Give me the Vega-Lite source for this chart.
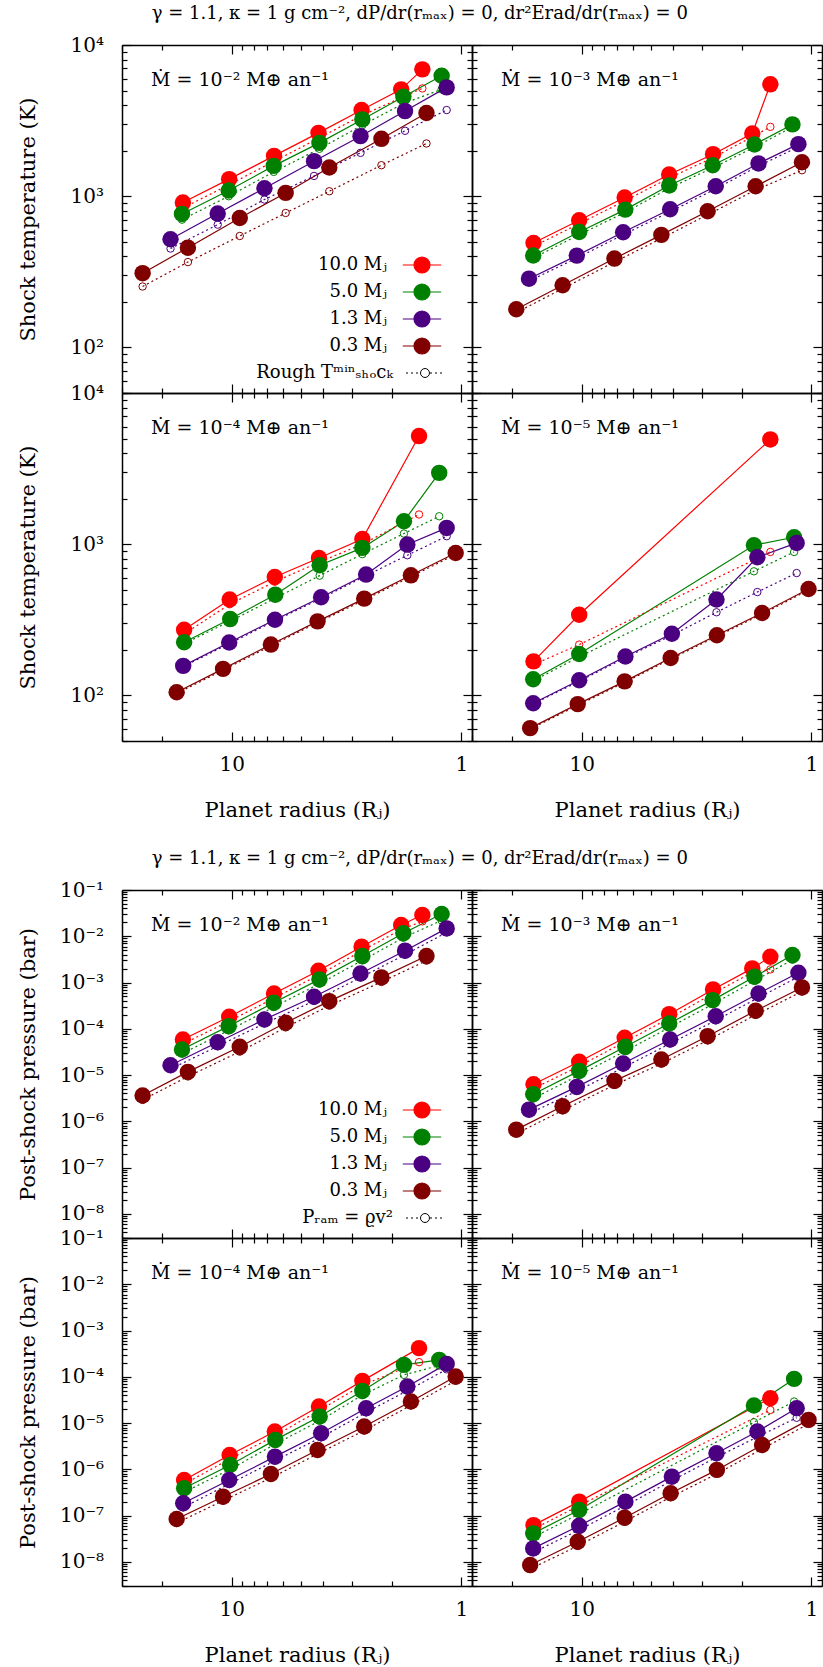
{
"$schema":"https://vega.github.io/schema/vega-lite/v6.json",
"padding":{"left":17,"top":5,"right":0,"bottom":0},
"config":{
 "font":"DejaVu Serif",
 "view":{"stroke":null},
 "axis":{"domainColor":"black","domainWidth":1.5,"tickColor":"black","tickWidth":1.2,"grid":false,"labelFont":"DejaVu Serif","titleFont":"DejaVu Serif","labelFontSize":20,"titleFontSize":21,"titleFontWeight":"normal","labelColor":"black","titleColor":"black","labelOverlap":false,"labelFlush":false,"labelBound":false},
 "legend":{"labelFont":"DejaVu Serif","labelFontSize":18,"labelColor":"black"},
 "title":{"font":"DejaVu Serif","fontWeight":"normal","color":"black"}
},
"datasets":{"d":[
{"f":"T","md":-2,"m":"10.0","r":16.3,"v":908,"vr":835},
{"f":"T","md":-2,"m":"10.0","r":10.25,"v":1297,"vr":1193},
{"f":"T","md":-2,"m":"10.0","r":6.54,"v":1849,"vr":1701},
{"f":"T","md":-2,"m":"10.0","r":4.19,"v":2625,"vr":2415},
{"f":"T","md":-2,"m":"10.0","r":2.72,"v":3715,"vr":3418},
{"f":"T","md":-2,"m":"10.0","r":1.83,"v":5090,"vr":4479},
{"f":"T","md":-2,"m":"10.0","r":1.48,"v":6900,"vr":5164},
{"f":"T","md":-2,"m":"5.0","r":16.45,"v":764,"vr":700},
{"f":"T","md":-2,"m":"5.0","r":10.3,"v":1091,"vr":1000},
{"f":"T","md":-2,"m":"5.0","r":6.56,"v":1588,"vr":1449},
{"f":"T","md":-2,"m":"5.0","r":4.15,"v":2254,"vr":2060},
{"f":"T","md":-2,"m":"5.0","r":2.7,"v":3221,"vr":2950},
{"f":"T","md":-2,"m":"5.0","r":1.79,"v":4546,"vr":4100},
{"f":"T","md":-2,"m":"5.0","r":1.22,"v":6266,"vr":5090},
{"f":"T","md":-2,"m":"1.3","r":18.45,"v":519,"vr":451},
{"f":"T","md":-2,"m":"1.3","r":11.5,"v":768,"vr":649},
{"f":"T","md":-2,"m":"1.3","r":7.2,"v":1130,"vr":951},
{"f":"T","md":-2,"m":"1.3","r":4.38,"v":1706,"vr":1362},
{"f":"T","md":-2,"m":"1.3","r":2.75,"v":2496,"vr":1936},
{"f":"T","md":-2,"m":"1.3","r":1.76,"v":3656,"vr":2708},
{"f":"T","md":-2,"m":"1.3","r":1.16,"v":5245,"vr":3715},
{"f":"T","md":-2,"m":"0.3","r":24.4,"v":310,"vr":253},
{"f":"T","md":-2,"m":"0.3","r":15.5,"v":457,"vr":367},
{"f":"T","md":-2,"m":"0.3","r":9.22,"v":718,"vr":546},
{"f":"T","md":-2,"m":"0.3","r":5.82,"v":1052,"vr":775},
{"f":"T","md":-2,"m":"0.3","r":3.76,"v":1549,"vr":1079},
{"f":"T","md":-2,"m":"0.3","r":2.23,"v":2397,"vr":1604},
{"f":"T","md":-2,"m":"0.3","r":1.42,"v":3548,"vr":2233},
{"f":"T","md":-3,"m":"10.0","r":16.2,"v":491,"vr":466},
{"f":"T","md":-3,"m":"10.0","r":10.25,"v":693,"vr":658},
{"f":"T","md":-3,"m":"10.0","r":6.5,"v":980,"vr":931},
{"f":"T","md":-3,"m":"10.0","r":4.16,"v":1392,"vr":1322},
{"f":"T","md":-3,"m":"10.0","r":2.68,"v":1897,"vr":1800},
{"f":"T","md":-3,"m":"10.0","r":1.81,"v":2600,"vr":2470},
{"f":"T","md":-3,"m":"10.0","r":1.51,"v":5495,"vr":2876},
{"f":"T","md":-3,"m":"5.0","r":16.25,"v":406,"vr":390},
{"f":"T","md":-3,"m":"5.0","r":10.25,"v":580,"vr":557},
{"f":"T","md":-3,"m":"5.0","r":6.46,"v":816,"vr":783},
{"f":"T","md":-3,"m":"5.0","r":4.16,"v":1177,"vr":1130},
{"f":"T","md":-3,"m":"5.0","r":2.69,"v":1604,"vr":1540},
{"f":"T","md":-3,"m":"5.0","r":1.77,"v":2198,"vr":2110},
{"f":"T","md":-3,"m":"5.0","r":1.21,"v":2985,"vr":2870},
{"f":"T","md":-3,"m":"1.3","r":16.95,"v":285,"vr":275},
{"f":"T","md":-3,"m":"1.3","r":10.5,"v":405,"vr":390},
{"f":"T","md":-3,"m":"1.3","r":6.6,"v":578,"vr":556},
{"f":"T","md":-3,"m":"1.3","r":4.12,"v":820,"vr":790},
{"f":"T","md":-3,"m":"1.3","r":2.61,"v":1164,"vr":1120},
{"f":"T","md":-3,"m":"1.3","r":1.7,"v":1648,"vr":1585},
{"f":"T","md":-3,"m":"1.3","r":1.14,"v":2210,"vr":2120},
{"f":"T","md":-3,"m":"0.3","r":19.25,"v":179,"vr":170},
{"f":"T","md":-3,"m":"0.3","r":12.1,"v":258,"vr":245},
{"f":"T","md":-3,"m":"0.3","r":7.2,"v":387,"vr":367},
{"f":"T","md":-3,"m":"0.3","r":4.5,"v":555,"vr":526},
{"f":"T","md":-3,"m":"0.3","r":2.83,"v":796,"vr":755},
{"f":"T","md":-3,"m":"0.3","r":1.75,"v":1164,"vr":1100},
{"f":"T","md":-3,"m":"0.3","r":1.1,"v":1679,"vr":1486},
{"f":"T","md":-4,"m":"10.0","r":16.1,"v":272,"vr":255},
{"f":"T","md":-4,"m":"10.0","r":10.2,"v":431,"vr":401},
{"f":"T","md":-4,"m":"10.0","r":6.49,"v":607,"vr":565},
{"f":"T","md":-4,"m":"10.0","r":4.17,"v":811,"vr":760},
{"f":"T","md":-4,"m":"10.0","r":2.7,"v":1084,"vr":1000},
{"f":"T","md":-4,"m":"10.0","r":1.53,"v":5190,"vr":1573},
{"f":"T","md":-4,"m":"5.0","r":16.1,"v":225,"vr":220},
{"f":"T","md":-4,"m":"5.0","r":10.15,"v":320,"vr":310},
{"f":"T","md":-4,"m":"5.0","r":6.46,"v":464,"vr":440},
{"f":"T","md":-4,"m":"5.0","r":4.14,"v":726,"vr":620},
{"f":"T","md":-4,"m":"5.0","r":2.7,"v":946,"vr":860},
{"f":"T","md":-4,"m":"5.0","r":1.78,"v":1420,"vr":1177},
{"f":"T","md":-4,"m":"5.0","r":1.25,"v":2965,"vr":1531},
{"f":"T","md":-4,"m":"1.3","r":16.25,"v":157,"vr":155},
{"f":"T","md":-4,"m":"1.3","r":10.25,"v":224,"vr":220},
{"f":"T","md":-4,"m":"1.3","r":6.48,"v":317,"vr":312},
{"f":"T","md":-4,"m":"1.3","r":4.08,"v":446,"vr":438},
{"f":"T","md":-4,"m":"1.3","r":2.6,"v":630,"vr":620},
{"f":"T","md":-4,"m":"1.3","r":1.72,"v":995,"vr":846},
{"f":"T","md":-4,"m":"1.3","r":1.16,"v":1282,"vr":1130},
{"f":"T","md":-4,"m":"0.3","r":17.35,"v":105,"vr":103},
{"f":"T","md":-4,"m":"0.3","r":10.9,"v":150,"vr":147},
{"f":"T","md":-4,"m":"0.3","r":6.75,"v":217,"vr":213},
{"f":"T","md":-4,"m":"0.3","r":4.23,"v":309,"vr":303},
{"f":"T","md":-4,"m":"0.3","r":2.65,"v":437,"vr":428},
{"f":"T","md":-4,"m":"0.3","r":1.66,"v":623,"vr":610},
{"f":"T","md":-4,"m":"0.3","r":1.06,"v":875,"vr":857},
{"f":"T","md":-5,"m":"10.0","r":16.2,"v":168,"vr":160},
{"f":"T","md":-5,"m":"10.0","r":10.25,"v":342,"vr":217},
{"f":"T","md":-5,"m":"10.0","r":1.51,"v":4932,"vr":889},
{"f":"T","md":-5,"m":"5.0","r":16.25,"v":128,"vr":125},
{"f":"T","md":-5,"m":"5.0","r":10.25,"v":188,"vr":180},
{"f":"T","md":-5,"m":"5.0","r":1.78,"v":985,"vr":662},
{"f":"T","md":-5,"m":"5.0","r":1.19,"v":1112,"vr":889},
{"f":"T","md":-5,"m":"1.3","r":16.25,"v":88.9,"vr":88},
{"f":"T","md":-5,"m":"1.3","r":10.25,"v":126,"vr":124},
{"f":"T","md":-5,"m":"1.3","r":6.45,"v":181,"vr":178},
{"f":"T","md":-5,"m":"1.3","r":4.05,"v":256,"vr":250},
{"f":"T","md":-5,"m":"1.3","r":2.59,"v":431,"vr":355},
{"f":"T","md":-5,"m":"1.3","r":1.72,"v":820,"vr":483},
{"f":"T","md":-5,"m":"1.3","r":1.16,"v":1020,"vr":645},
{"f":"T","md":-5,"m":"0.3","r":16.75,"v":60.8,"vr":60},
{"f":"T","md":-5,"m":"0.3","r":10.4,"v":87.7,"vr":86},
{"f":"T","md":-5,"m":"0.3","r":6.5,"v":124,"vr":122},
{"f":"T","md":-5,"m":"0.3","r":4.1,"v":177,"vr":174},
{"f":"T","md":-5,"m":"0.3","r":2.58,"v":250,"vr":246},
{"f":"T","md":-5,"m":"0.3","r":1.64,"v":351,"vr":345},
{"f":"T","md":-5,"m":"0.3","r":1.03,"v":506,"vr":497},
{"f":"P","md":-2,"m":"10.0","r":16.3,"v":5.86e-5,"vr":4.7e-5},
{"f":"P","md":-2,"m":"10.0","r":10.25,"v":1.82e-4,"vr":1.46e-4},
{"f":"P","md":-2,"m":"10.0","r":6.54,"v":5.8e-4,"vr":4.6e-4},
{"f":"P","md":-2,"m":"10.0","r":4.19,"v":1.8e-3,"vr":1.44e-3},
{"f":"P","md":-2,"m":"10.0","r":2.72,"v":5.96e-3,"vr":4.8e-3},
{"f":"P","md":-2,"m":"10.0","r":1.83,"v":0.0175,"vr":0.014},
{"f":"P","md":-2,"m":"10.0","r":1.48,"v":0.0288,"vr":0.021},
{"f":"P","md":-2,"m":"5.0","r":16.45,"v":3.56e-5,"vr":2.9e-5},
{"f":"P","md":-2,"m":"5.0","r":10.3,"v":1.14e-4,"vr":9.2e-5},
{"f":"P","md":-2,"m":"5.0","r":6.56,"v":3.66e-4,"vr":2.95e-4},
{"f":"P","md":-2,"m":"5.0","r":4.15,"v":1.17e-3,"vr":9.4e-4},
{"f":"P","md":-2,"m":"5.0","r":2.7,"v":3.73e-3,"vr":3.0e-3},
{"f":"P","md":-2,"m":"5.0","r":1.79,"v":0.0116,"vr":9.3e-3},
{"f":"P","md":-2,"m":"5.0","r":1.22,"v":0.0303,"vr":0.022},
{"f":"P","md":-2,"m":"1.3","r":18.45,"v":1.63e-5,"vr":1.35e-5},
{"f":"P","md":-2,"m":"1.3","r":11.5,"v":5.13e-5,"vr":4.2e-5},
{"f":"P","md":-2,"m":"1.3","r":7.2,"v":1.59e-4,"vr":1.3e-4},
{"f":"P","md":-2,"m":"1.3","r":4.38,"v":4.93e-4,"vr":4.0e-4},
{"f":"P","md":-2,"m":"1.3","r":2.75,"v":1.57e-3,"vr":1.28e-3},
{"f":"P","md":-2,"m":"1.3","r":1.76,"v":4.88e-3,"vr":4.0e-3},
{"f":"P","md":-2,"m":"1.3","r":1.16,"v":0.0148,"vr":0.0121},
{"f":"P","md":-2,"m":"0.3","r":24.4,"v":3.6e-6,"vr":2.9e-6},
{"f":"P","md":-2,"m":"0.3","r":15.5,"v":1.17e-5,"vr":9.3e-6},
{"f":"P","md":-2,"m":"0.3","r":9.22,"v":4.07e-5,"vr":3.2e-5},
{"f":"P","md":-2,"m":"0.3","r":5.82,"v":1.35e-4,"vr":1.07e-4},
{"f":"P","md":-2,"m":"0.3","r":3.76,"v":3.96e-4,"vr":3.15e-4},
{"f":"P","md":-2,"m":"0.3","r":2.23,"v":1.29e-3,"vr":1.03e-3},
{"f":"P","md":-2,"m":"0.3","r":1.42,"v":3.73e-3,"vr":2.97e-3},
{"f":"P","md":-3,"m":"10.0","r":16.2,"v":6.3e-6,"vr":5.1e-6},
{"f":"P","md":-3,"m":"10.0","r":10.25,"v":1.93e-5,"vr":1.56e-5},
{"f":"P","md":-3,"m":"10.0","r":6.5,"v":6.38e-5,"vr":5.2e-5},
{"f":"P","md":-3,"m":"10.0","r":4.16,"v":2.07e-4,"vr":1.68e-4},
{"f":"P","md":-3,"m":"10.0","r":2.68,"v":7.1e-4,"vr":5.8e-4},
{"f":"P","md":-3,"m":"10.0","r":1.81,"v":2.02e-3,"vr":1.65e-3},
{"f":"P","md":-3,"m":"10.0","r":1.51,"v":3.6e-3,"vr":1.92e-3},
{"f":"P","md":-3,"m":"5.0","r":16.25,"v":3.84e-6,"vr":3.1e-6},
{"f":"P","md":-3,"m":"5.0","r":10.25,"v":1.23e-5,"vr":1.0e-5},
{"f":"P","md":-3,"m":"5.0","r":6.46,"v":4.07e-5,"vr":3.3e-5},
{"f":"P","md":-3,"m":"5.0","r":4.16,"v":1.3e-4,"vr":1.06e-4},
{"f":"P","md":-3,"m":"5.0","r":2.69,"v":4.16e-4,"vr":3.4e-4},
{"f":"P","md":-3,"m":"5.0","r":1.77,"v":1.33e-3,"vr":1.09e-3},
{"f":"P","md":-3,"m":"5.0","r":1.21,"v":3.92e-3,"vr":3.1e-3},
{"f":"P","md":-3,"m":"1.3","r":16.95,"v":1.79e-6,"vr":1.46e-6},
{"f":"P","md":-3,"m":"1.3","r":10.5,"v":5.55e-6,"vr":4.5e-6},
{"f":"P","md":-3,"m":"1.3","r":6.6,"v":1.77e-5,"vr":1.44e-5},
{"f":"P","md":-3,"m":"1.3","r":4.12,"v":5.86e-5,"vr":4.8e-5},
{"f":"P","md":-3,"m":"1.3","r":2.61,"v":1.87e-4,"vr":1.52e-4},
{"f":"P","md":-3,"m":"1.3","r":1.7,"v":5.8e-4,"vr":4.7e-4},
{"f":"P","md":-3,"m":"1.3","r":1.14,"v":1.63e-3,"vr":1.33e-3},
{"f":"P","md":-3,"m":"0.3","r":19.25,"v":6.6e-7,"vr":5.4e-7},
{"f":"P","md":-3,"m":"0.3","r":12.1,"v":2.11e-6,"vr":1.72e-6},
{"f":"P","md":-3,"m":"0.3","r":7.2,"v":7.48e-6,"vr":6.1e-6},
{"f":"P","md":-3,"m":"0.3","r":4.5,"v":2.16e-5,"vr":1.76e-5},
{"f":"P","md":-3,"m":"0.3","r":2.83,"v":6.92e-5,"vr":5.6e-5},
{"f":"P","md":-3,"m":"0.3","r":1.75,"v":2.45e-4,"vr":2.0e-4},
{"f":"P","md":-3,"m":"0.3","r":1.1,"v":7.83e-4,"vr":6.4e-4},
{"f":"P","md":-4,"m":"10.0","r":16.1,"v":5.87e-7,"vr":4.8e-7},
{"f":"P","md":-4,"m":"10.0","r":10.2,"v":2.04e-6,"vr":1.66e-6},
{"f":"P","md":-4,"m":"10.0","r":6.49,"v":6.55e-6,"vr":5.3e-6},
{"f":"P","md":-4,"m":"10.0","r":4.17,"v":2.28e-5,"vr":1.85e-5},
{"f":"P","md":-4,"m":"10.0","r":2.7,"v":8.16e-5,"vr":6.6e-5},
{"f":"P","md":-4,"m":"10.0","r":1.53,"v":4.16e-4,"vr":2.07e-4},
{"f":"P","md":-4,"m":"5.0","r":16.1,"v":3.88e-7,"vr":3.2e-7},
{"f":"P","md":-4,"m":"5.0","r":10.15,"v":1.24e-6,"vr":1.0e-6},
{"f":"P","md":-4,"m":"5.0","r":6.46,"v":4.32e-6,"vr":3.5e-6},
{"f":"P","md":-4,"m":"5.0","r":4.14,"v":1.38e-5,"vr":1.12e-5},
{"f":"P","md":-4,"m":"5.0","r":2.7,"v":4.95e-5,"vr":4.0e-5},
{"f":"P","md":-4,"m":"5.0","r":1.78,"v":1.81e-4,"vr":1.1e-4},
{"f":"P","md":-4,"m":"5.0","r":1.25,"v":2.32e-4,"vr":1.75e-4},
{"f":"P","md":-4,"m":"1.3","r":16.25,"v":1.84e-7,"vr":1.5e-7},
{"f":"P","md":-4,"m":"1.3","r":10.25,"v":5.87e-7,"vr":4.8e-7},
{"f":"P","md":-4,"m":"1.3","r":6.48,"v":1.88e-6,"vr":1.53e-6},
{"f":"P","md":-4,"m":"1.3","r":4.08,"v":6.0e-6,"vr":4.9e-6},
{"f":"P","md":-4,"m":"1.3","r":2.6,"v":2.09e-5,"vr":1.7e-5},
{"f":"P","md":-4,"m":"1.3","r":1.72,"v":6.17e-5,"vr":5.0e-5},
{"f":"P","md":-4,"m":"1.3","r":1.16,"v":1.9e-4,"vr":1.45e-4},
{"f":"P","md":-4,"m":"0.3","r":17.35,"v":8.4e-8,"vr":6.9e-8},
{"f":"P","md":-4,"m":"0.3","r":10.9,"v":2.56e-7,"vr":2.1e-7},
{"f":"P","md":-4,"m":"0.3","r":6.75,"v":7.9e-7,"vr":6.5e-7},
{"f":"P","md":-4,"m":"0.3","r":4.23,"v":2.62e-6,"vr":2.15e-6},
{"f":"P","md":-4,"m":"0.3","r":2.65,"v":8.4e-6,"vr":6.9e-6},
{"f":"P","md":-4,"m":"0.3","r":1.66,"v":2.92e-5,"vr":2.4e-5},
{"f":"P","md":-4,"m":"0.3","r":1.06,"v":1.01e-4,"vr":8.2e-5},
{"f":"P","md":-5,"m":"10.0","r":16.2,"v":6.2e-8,"vr":5.1e-8},
{"f":"P","md":-5,"m":"10.0","r":10.25,"v":2.0e-7,"vr":1.64e-7},
{"f":"P","md":-5,"m":"10.0","r":1.51,"v":3.44e-5,"vr":1.92e-5},
{"f":"P","md":-5,"m":"5.0","r":16.25,"v":4.12e-8,"vr":3.4e-8},
{"f":"P","md":-5,"m":"5.0","r":10.25,"v":1.32e-7,"vr":1.08e-7},
{"f":"P","md":-5,"m":"5.0","r":1.78,"v":2.39e-5,"vr":1.04e-5},
{"f":"P","md":-5,"m":"5.0","r":1.19,"v":9.0e-5,"vr":2.92e-5},
{"f":"P","md":-5,"m":"1.3","r":16.25,"v":1.95e-8,"vr":1.6e-8},
{"f":"P","md":-5,"m":"1.3","r":10.25,"v":6.0e-8,"vr":4.9e-8},
{"f":"P","md":-5,"m":"1.3","r":6.45,"v":2.0e-7,"vr":1.64e-7},
{"f":"P","md":-5,"m":"1.3","r":4.05,"v":6.95e-7,"vr":5.7e-7},
{"f":"P","md":-5,"m":"1.3","r":2.59,"v":2.22e-6,"vr":1.82e-6},
{"f":"P","md":-5,"m":"1.3","r":1.72,"v":6.55e-6,"vr":5.0e-6},
{"f":"P","md":-5,"m":"1.3","r":1.16,"v":2.09e-5,"vr":1.3e-5},
{"f":"P","md":-5,"m":"0.3","r":16.75,"v":8.5e-9,"vr":7.0e-9},
{"f":"P","md":-5,"m":"0.3","r":10.4,"v":2.72e-8,"vr":2.2e-8},
{"f":"P","md":-5,"m":"0.3","r":6.5,"v":9.0e-8,"vr":7.4e-8},
{"f":"P","md":-5,"m":"0.3","r":4.1,"v":3.03e-7,"vr":2.5e-7},
{"f":"P","md":-5,"m":"0.3","r":2.58,"v":9.7e-7,"vr":8.0e-7},
{"f":"P","md":-5,"m":"0.3","r":1.64,"v":3.36e-6,"vr":2.75e-6},
{"f":"P","md":-5,"m":"0.3","r":1.03,"v":1.17e-5,"vr":9.6e-6}
]},
"data":{"name":"d"},
"spacing":30,
"resolve":{"legend":{"color":"independent","shape":"independent","strokeDash":"independent"}},
"vconcat":[
{
 "title":{"text":"γ = 1.1, κ = 1 g cm⁻², dP/dr(rₘₐₓ) = 0, dr²Erad/dr(rₘₐₓ) = 0","anchor":"middle","frame":"bounds","offset":3,"baseline":"middle","fontSize":18},
 "columns":2,"spacing":0,"bounds":"flush",
 "resolve":{"legend":{"color":"independent","shape":"independent","strokeDash":"independent"}},
 "concat":[
   {"width":350,"height":348,
    "transform":[{"filter":"datum.f=='T'&&datum.md==-2"}],
    "resolve":{"axis":{"x":"independent","y":"independent"}},
    "layer":[
     {"transform":[{"filter":"false"}],"mark":{"type":"circle","size":270,"opacity":1},"encoding":{
       "x":{"field":"r","type":"quantitative","scale":{"type":"log","domain":[0.9,30],"reverse":true,"nice":false},"axis":null},
       "y":{"field":"v","type":"quantitative","scale":{"type":"log","domain":[50,10000],"nice":false},"axis":null},
       "color":{"field":"m","type":"nominal","scale":{"domain":["10.0","5.0","1.3","0.3"],"range":["#ff0000","#008000","#4b0082","#800000"]},"legend":{"orient":"none","legendX":291,"legendY":211,"title":null,"padding":0,"symbolType":"M-2.4,0H-1M1,0H2.4M1,0A1,1,0,1,1,-1,0A1,1,0,1,1,1,0Z","symbolSize":256,"symbolStrokeColor":"#800000","symbolStrokeWidth":1.2,"labelExpr":"datum.label+' Mⱼ'","labelAlign":"right","labelOffset":-44,"labelFontSize":18,"rowPadding":5,"labelLimit":400}}}},
     {"mark":{"type":"line","strokeWidth":1.2},"encoding":{
       "x":{"field":"r","type":"quantitative","scale":{"type":"log","domain":[0.9,30],"reverse":true,"nice":false},"axis":{"orient":"bottom","values":[1,2,3,4,5,6,7,8,9,10,20,30],"labels":false,"tickSize":{"condition":{"test":"datum.value==1||datum.value==10","value":-9},"value":-5},"title":null}},
       "y":{"field":"v","type":"quantitative","scale":{"type":"log","domain":[50,10000],"nice":false},"axis":{"orient":"left","values":[50,60,70,80,90,100,200,300,400,500,600,700,800,900,1000,2000,3000,4000,5000,6000,7000,8000,9000,10000],"labelExpr":"abs(log(datum.value)/LN10-round(log(datum.value)/LN10))<0.01?'10'+(datum.value<1?'⁻':'')+substring('⁰¹²³⁴⁵⁶⁷⁸⁹',abs(round(log(datum.value)/LN10)),abs(round(log(datum.value)/LN10))+1):''","tickSize":{"condition":{"test":"abs(log(datum.value)/LN10-round(log(datum.value)/LN10))<0.01","value":-9},"value":-5},"labelPadding":27.5,"title":"Shock temperature (K)","titleX":-94,"titleBaseline":"middle"}},
       "color":{"field":"m","type":"nominal"}}},
     {"mark":{"type":"line","strokeWidth":1.2,"strokeDash":[2,3]},"encoding":{
       "x":{"field":"r","type":"quantitative","scale":{"type":"log","domain":[0.9,30],"reverse":true,"nice":false},"axis":{"orient":"top","values":[1,2,3,4,5,6,7,8,9,10,20,30],"labels":false,"tickSize":{"condition":{"test":"datum.value==1||datum.value==10","value":-9},"value":-5},"title":null}},
       "y":{"field":"vr","type":"quantitative","scale":{"type":"log","domain":[50,10000],"nice":false},"axis":{"orient":"right","values":[50,60,70,80,90,100,200,300,400,500,600,700,800,900,1000,2000,3000,4000,5000,6000,7000,8000,9000,10000],"labels":false,"tickSize":{"condition":{"test":"abs(log(datum.value)/LN10-round(log(datum.value)/LN10))<0.01","value":-9},"value":-5},"title":null}},
       "color":{"field":"m","type":"nominal"},
       "strokeDash":{"datum":"rough","scale":{"range":[[2,3]]},"legend":{"orient":"none","legendX":294,"legendY":319,"title":null,"padding":0,"symbolType":"M-3.8,0H-1M1,0H3.8","symbolSize":100,"symbolStrokeColor":"black","symbolFillColor":"transparent","symbolStrokeWidth":1,"labelExpr":"'Rough Tᵐⁱⁿₛₕₒcₖ'","labelAlign":"right","labelOffset":-41,"labelFontSize":18,"labelLimit":400}}}},
     {"mark":{"type":"point","filled":false,"size":55,"strokeWidth":1,"opacity":1},"encoding":{
       "x":{"field":"r","type":"quantitative","scale":{"type":"log","domain":[0.9,30],"reverse":true,"nice":false},"axis":null},
       "y":{"field":"vr","type":"quantitative","scale":{"type":"log","domain":[50,10000],"nice":false},"axis":null},
       "color":{"field":"m","type":"nominal"},
       "shape":{"datum":"o","legend":{"orient":"none","legendX":294,"legendY":319,"title":null,"padding":0,"symbolSize":80,"symbolStrokeColor":"black","symbolFillColor":"transparent","symbolStrokeWidth":1,"labelExpr":"''","labelFontSize":18}}}},
     {"mark":{"type":"circle","size":270,"opacity":1},"encoding":{
       "x":{"field":"r","type":"quantitative","scale":{"type":"log","domain":[0.9,30],"reverse":true,"nice":false},"axis":null},
       "y":{"field":"v","type":"quantitative","scale":{"type":"log","domain":[50,10000],"nice":false},"axis":null},
       "color":{"field":"m","type":"nominal"}}},
     {"data":{"values":[{}]},"mark":{"type":"text","align":"left","baseline":"middle","fontSize":19,"font":"DejaVu Serif","color":"black"},"encoding":{
       "x":{"datum":22.43,"type":"quantitative","scale":{"type":"log","domain":[0.9,30],"reverse":true,"nice":false},"axis":null},
       "y":{"datum":5869,"type":"quantitative","scale":{"type":"log","domain":[50,10000],"nice":false},"axis":null},
       "text":{"value":"Ṁ = 10⁻² M⊕ an⁻¹"}}}
    ]},
   {"width":350,"height":348,
    "transform":[{"filter":"datum.f=='T'&&datum.md==-3"}],
    "resolve":{"axis":{"x":"independent","y":"independent"}},
    "layer":[
     {"mark":{"type":"line","strokeWidth":1.2},"encoding":{
       "x":{"field":"r","type":"quantitative","scale":{"type":"log","domain":[0.9,30],"reverse":true,"nice":false},"axis":{"orient":"bottom","values":[1,2,3,4,5,6,7,8,9,10,20,30],"labels":false,"tickSize":{"condition":{"test":"datum.value==1||datum.value==10","value":-9},"value":-5},"title":null}},
       "y":{"field":"v","type":"quantitative","scale":{"type":"log","domain":[50,10000],"nice":false},"axis":{"orient":"left","values":[50,60,70,80,90,100,200,300,400,500,600,700,800,900,1000,2000,3000,4000,5000,6000,7000,8000,9000,10000],"labels":false,"tickSize":{"condition":{"test":"abs(log(datum.value)/LN10-round(log(datum.value)/LN10))<0.01","value":-9},"value":-5},"title":null}},
       "color":{"field":"m","type":"nominal","scale":{"domain":["10.0","5.0","1.3","0.3"],"range":["#ff0000","#008000","#4b0082","#800000"]},"legend":null}}},
     {"mark":{"type":"line","strokeWidth":1.2,"strokeDash":[2,3]},"encoding":{
       "x":{"field":"r","type":"quantitative","scale":{"type":"log","domain":[0.9,30],"reverse":true,"nice":false},"axis":{"orient":"top","values":[1,2,3,4,5,6,7,8,9,10,20,30],"labels":false,"tickSize":{"condition":{"test":"datum.value==1||datum.value==10","value":-9},"value":-5},"title":null}},
       "y":{"field":"vr","type":"quantitative","scale":{"type":"log","domain":[50,10000],"nice":false},"axis":{"orient":"right","values":[50,60,70,80,90,100,200,300,400,500,600,700,800,900,1000,2000,3000,4000,5000,6000,7000,8000,9000,10000],"labels":false,"tickSize":{"condition":{"test":"abs(log(datum.value)/LN10-round(log(datum.value)/LN10))<0.01","value":-9},"value":-5},"title":null}},
       "color":{"field":"m","type":"nominal","legend":null}}},
     {"mark":{"type":"point","filled":false,"size":55,"strokeWidth":1,"opacity":1},"encoding":{
       "x":{"field":"r","type":"quantitative","scale":{"type":"log","domain":[0.9,30],"reverse":true,"nice":false},"axis":null},
       "y":{"field":"vr","type":"quantitative","scale":{"type":"log","domain":[50,10000],"nice":false},"axis":null},
       "color":{"field":"m","type":"nominal","legend":null}}},
     {"mark":{"type":"circle","size":270,"opacity":1},"encoding":{
       "x":{"field":"r","type":"quantitative","scale":{"type":"log","domain":[0.9,30],"reverse":true,"nice":false},"axis":null},
       "y":{"field":"v","type":"quantitative","scale":{"type":"log","domain":[50,10000],"nice":false},"axis":null},
       "color":{"field":"m","type":"nominal","legend":null}}},
     {"data":{"values":[{}]},"mark":{"type":"text","align":"left","baseline":"middle","fontSize":19,"font":"DejaVu Serif","color":"black"},"encoding":{
       "x":{"datum":22.43,"type":"quantitative","scale":{"type":"log","domain":[0.9,30],"reverse":true,"nice":false},"axis":null},
       "y":{"datum":5869,"type":"quantitative","scale":{"type":"log","domain":[50,10000],"nice":false},"axis":null},
       "text":{"value":"Ṁ = 10⁻³ M⊕ an⁻¹"}}}
    ]},
   {"width":350,"height":348,
    "transform":[{"filter":"datum.f=='T'&&datum.md==-4"}],
    "resolve":{"axis":{"x":"independent","y":"independent"}},
    "layer":[
     {"mark":{"type":"line","strokeWidth":1.2},"encoding":{
       "x":{"field":"r","type":"quantitative","scale":{"type":"log","domain":[0.9,30],"reverse":true,"nice":false},"axis":{"orient":"bottom","values":[1,2,3,4,5,6,7,8,9,10,20,30],"labelExpr":"datum.value==1||datum.value==10?''+datum.value:''","tickSize":{"condition":{"test":"datum.value==1||datum.value==10","value":-9},"value":-5},"labelPadding":32.5,"labelBaseline":"middle","title":"Planet radius (Rⱼ)","titleY":69,"titleBaseline":"middle"}},
       "y":{"field":"v","type":"quantitative","scale":{"type":"log","domain":[50,10000],"nice":false},"axis":{"orient":"left","values":[50,60,70,80,90,100,200,300,400,500,600,700,800,900,1000,2000,3000,4000,5000,6000,7000,8000,9000,10000],"labelExpr":"abs(log(datum.value)/LN10-round(log(datum.value)/LN10))<0.01?'10'+(datum.value<1?'⁻':'')+substring('⁰¹²³⁴⁵⁶⁷⁸⁹',abs(round(log(datum.value)/LN10)),abs(round(log(datum.value)/LN10))+1):''","tickSize":{"condition":{"test":"abs(log(datum.value)/LN10-round(log(datum.value)/LN10))<0.01","value":-9},"value":-5},"labelPadding":27.5,"title":"Shock temperature (K)","titleX":-94,"titleBaseline":"middle"}},
       "color":{"field":"m","type":"nominal","scale":{"domain":["10.0","5.0","1.3","0.3"],"range":["#ff0000","#008000","#4b0082","#800000"]},"legend":null}}},
     {"mark":{"type":"line","strokeWidth":1.2,"strokeDash":[2,3]},"encoding":{
       "x":{"field":"r","type":"quantitative","scale":{"type":"log","domain":[0.9,30],"reverse":true,"nice":false},"axis":{"orient":"top","values":[1,2,3,4,5,6,7,8,9,10,20,30],"labels":false,"tickSize":{"condition":{"test":"datum.value==1||datum.value==10","value":-9},"value":-5},"title":null}},
       "y":{"field":"vr","type":"quantitative","scale":{"type":"log","domain":[50,10000],"nice":false},"axis":{"orient":"right","values":[50,60,70,80,90,100,200,300,400,500,600,700,800,900,1000,2000,3000,4000,5000,6000,7000,8000,9000,10000],"labels":false,"tickSize":{"condition":{"test":"abs(log(datum.value)/LN10-round(log(datum.value)/LN10))<0.01","value":-9},"value":-5},"title":null}},
       "color":{"field":"m","type":"nominal","legend":null}}},
     {"mark":{"type":"point","filled":false,"size":55,"strokeWidth":1,"opacity":1},"encoding":{
       "x":{"field":"r","type":"quantitative","scale":{"type":"log","domain":[0.9,30],"reverse":true,"nice":false},"axis":null},
       "y":{"field":"vr","type":"quantitative","scale":{"type":"log","domain":[50,10000],"nice":false},"axis":null},
       "color":{"field":"m","type":"nominal","legend":null}}},
     {"mark":{"type":"circle","size":270,"opacity":1},"encoding":{
       "x":{"field":"r","type":"quantitative","scale":{"type":"log","domain":[0.9,30],"reverse":true,"nice":false},"axis":null},
       "y":{"field":"v","type":"quantitative","scale":{"type":"log","domain":[50,10000],"nice":false},"axis":null},
       "color":{"field":"m","type":"nominal","legend":null}}},
     {"data":{"values":[{}]},"mark":{"type":"text","align":"left","baseline":"middle","fontSize":19,"font":"DejaVu Serif","color":"black"},"encoding":{
       "x":{"datum":22.43,"type":"quantitative","scale":{"type":"log","domain":[0.9,30],"reverse":true,"nice":false},"axis":null},
       "y":{"datum":5869,"type":"quantitative","scale":{"type":"log","domain":[50,10000],"nice":false},"axis":null},
       "text":{"value":"Ṁ = 10⁻⁴ M⊕ an⁻¹"}}}
    ]},
   {"width":350,"height":348,
    "transform":[{"filter":"datum.f=='T'&&datum.md==-5"}],
    "resolve":{"axis":{"x":"independent","y":"independent"}},
    "layer":[
     {"mark":{"type":"line","strokeWidth":1.2},"encoding":{
       "x":{"field":"r","type":"quantitative","scale":{"type":"log","domain":[0.9,30],"reverse":true,"nice":false},"axis":{"orient":"bottom","values":[1,2,3,4,5,6,7,8,9,10,20,30],"labelExpr":"datum.value==1||datum.value==10?''+datum.value:''","tickSize":{"condition":{"test":"datum.value==1||datum.value==10","value":-9},"value":-5},"labelPadding":32.5,"labelBaseline":"middle","title":"Planet radius (Rⱼ)","titleY":69,"titleBaseline":"middle"}},
       "y":{"field":"v","type":"quantitative","scale":{"type":"log","domain":[50,10000],"nice":false},"axis":{"orient":"left","values":[50,60,70,80,90,100,200,300,400,500,600,700,800,900,1000,2000,3000,4000,5000,6000,7000,8000,9000,10000],"labels":false,"tickSize":{"condition":{"test":"abs(log(datum.value)/LN10-round(log(datum.value)/LN10))<0.01","value":-9},"value":-5},"title":null}},
       "color":{"field":"m","type":"nominal","scale":{"domain":["10.0","5.0","1.3","0.3"],"range":["#ff0000","#008000","#4b0082","#800000"]},"legend":null}}},
     {"mark":{"type":"line","strokeWidth":1.2,"strokeDash":[2,3]},"encoding":{
       "x":{"field":"r","type":"quantitative","scale":{"type":"log","domain":[0.9,30],"reverse":true,"nice":false},"axis":{"orient":"top","values":[1,2,3,4,5,6,7,8,9,10,20,30],"labels":false,"tickSize":{"condition":{"test":"datum.value==1||datum.value==10","value":-9},"value":-5},"title":null}},
       "y":{"field":"vr","type":"quantitative","scale":{"type":"log","domain":[50,10000],"nice":false},"axis":{"orient":"right","values":[50,60,70,80,90,100,200,300,400,500,600,700,800,900,1000,2000,3000,4000,5000,6000,7000,8000,9000,10000],"labels":false,"tickSize":{"condition":{"test":"abs(log(datum.value)/LN10-round(log(datum.value)/LN10))<0.01","value":-9},"value":-5},"title":null}},
       "color":{"field":"m","type":"nominal","legend":null}}},
     {"mark":{"type":"point","filled":false,"size":55,"strokeWidth":1,"opacity":1},"encoding":{
       "x":{"field":"r","type":"quantitative","scale":{"type":"log","domain":[0.9,30],"reverse":true,"nice":false},"axis":null},
       "y":{"field":"vr","type":"quantitative","scale":{"type":"log","domain":[50,10000],"nice":false},"axis":null},
       "color":{"field":"m","type":"nominal","legend":null}}},
     {"mark":{"type":"circle","size":270,"opacity":1},"encoding":{
       "x":{"field":"r","type":"quantitative","scale":{"type":"log","domain":[0.9,30],"reverse":true,"nice":false},"axis":null},
       "y":{"field":"v","type":"quantitative","scale":{"type":"log","domain":[50,10000],"nice":false},"axis":null},
       "color":{"field":"m","type":"nominal","legend":null}}},
     {"data":{"values":[{}]},"mark":{"type":"text","align":"left","baseline":"middle","fontSize":19,"font":"DejaVu Serif","color":"black"},"encoding":{
       "x":{"datum":22.43,"type":"quantitative","scale":{"type":"log","domain":[0.9,30],"reverse":true,"nice":false},"axis":null},
       "y":{"datum":5869,"type":"quantitative","scale":{"type":"log","domain":[50,10000],"nice":false},"axis":null},
       "text":{"value":"Ṁ = 10⁻⁵ M⊕ an⁻¹"}}}
    ]}
 ]
},
{
 "title":{"text":"γ = 1.1, κ = 1 g cm⁻², dP/dr(rₘₐₓ) = 0, dr²Erad/dr(rₘₐₓ) = 0","anchor":"middle","frame":"bounds","offset":3,"baseline":"middle","fontSize":18},
 "columns":2,"spacing":0,"bounds":"flush",
 "resolve":{"legend":{"color":"independent","shape":"independent","strokeDash":"independent"}},
 "concat":[
   {"width":350,"height":348,
    "transform":[{"filter":"datum.f=='P'&&datum.md==-2"}],
    "resolve":{"axis":{"x":"independent","y":"independent"}},
    "layer":[
     {"transform":[{"filter":"false"}],"mark":{"type":"circle","size":270,"opacity":1},"encoding":{
       "x":{"field":"r","type":"quantitative","scale":{"type":"log","domain":[0.9,30],"reverse":true,"nice":false},"axis":null},
       "y":{"field":"v","type":"quantitative","scale":{"type":"log","domain":[3e-9,0.1],"nice":false},"axis":null},
       "color":{"field":"m","type":"nominal","scale":{"domain":["10.0","5.0","1.3","0.3"],"range":["#ff0000","#008000","#4b0082","#800000"]},"legend":{"orient":"none","legendX":291,"legendY":211,"title":null,"padding":0,"symbolType":"M-2.4,0H-1M1,0H2.4M1,0A1,1,0,1,1,-1,0A1,1,0,1,1,1,0Z","symbolSize":256,"symbolStrokeColor":"#800000","symbolStrokeWidth":1.2,"labelExpr":"datum.label+' Mⱼ'","labelAlign":"right","labelOffset":-44,"labelFontSize":18,"rowPadding":5,"labelLimit":400}}}},
     {"mark":{"type":"line","strokeWidth":1.2},"encoding":{
       "x":{"field":"r","type":"quantitative","scale":{"type":"log","domain":[0.9,30],"reverse":true,"nice":false},"axis":{"orient":"bottom","values":[1,2,3,4,5,6,7,8,9,10,20,30],"labels":false,"tickSize":{"condition":{"test":"datum.value==1||datum.value==10","value":-9},"value":-5},"title":null}},
       "y":{"field":"v","type":"quantitative","scale":{"type":"log","domain":[3e-9,0.1],"nice":false},"axis":{"orient":"left","values":[3e-9,4e-9,5e-9,6e-9,7e-9,8e-9,9e-9,1e-8,2e-8,3e-8,4e-8,5e-8,6e-8,7e-8,8e-8,9e-8,1e-7,2e-7,3e-7,4e-7,5e-7,6e-7,7e-7,8e-7,9e-7,1e-6,2e-6,3e-6,4e-6,5e-6,6e-6,7e-6,8e-6,9e-6,1e-5,2e-5,3e-5,4e-5,5e-5,6e-5,7e-5,8e-5,9e-5,1e-4,2e-4,3e-4,4e-4,5e-4,6e-4,7e-4,8e-4,9e-4,0.001,0.002,0.003,0.004,0.005,0.006,0.007,0.008,0.009,0.01,0.02,0.03,0.04,0.05,0.06,0.07,0.08,0.09,0.1],"labelExpr":"abs(log(datum.value)/LN10-round(log(datum.value)/LN10))<0.01?'10'+(datum.value<1?'⁻':'')+substring('⁰¹²³⁴⁵⁶⁷⁸⁹',abs(round(log(datum.value)/LN10)),abs(round(log(datum.value)/LN10))+1):''","tickSize":{"condition":{"test":"abs(log(datum.value)/LN10-round(log(datum.value)/LN10))<0.01","value":-9},"value":-5},"labelPadding":27.5,"title":"Post-shock pressure (bar)","titleX":-94,"titleBaseline":"middle"}},
       "color":{"field":"m","type":"nominal"}}},
     {"mark":{"type":"line","strokeWidth":1.2,"strokeDash":[2,3]},"encoding":{
       "x":{"field":"r","type":"quantitative","scale":{"type":"log","domain":[0.9,30],"reverse":true,"nice":false},"axis":{"orient":"top","values":[1,2,3,4,5,6,7,8,9,10,20,30],"labels":false,"tickSize":{"condition":{"test":"datum.value==1||datum.value==10","value":-9},"value":-5},"title":null}},
       "y":{"field":"vr","type":"quantitative","scale":{"type":"log","domain":[3e-9,0.1],"nice":false},"axis":{"orient":"right","values":[3e-9,4e-9,5e-9,6e-9,7e-9,8e-9,9e-9,1e-8,2e-8,3e-8,4e-8,5e-8,6e-8,7e-8,8e-8,9e-8,1e-7,2e-7,3e-7,4e-7,5e-7,6e-7,7e-7,8e-7,9e-7,1e-6,2e-6,3e-6,4e-6,5e-6,6e-6,7e-6,8e-6,9e-6,1e-5,2e-5,3e-5,4e-5,5e-5,6e-5,7e-5,8e-5,9e-5,1e-4,2e-4,3e-4,4e-4,5e-4,6e-4,7e-4,8e-4,9e-4,0.001,0.002,0.003,0.004,0.005,0.006,0.007,0.008,0.009,0.01,0.02,0.03,0.04,0.05,0.06,0.07,0.08,0.09,0.1],"labels":false,"tickSize":{"condition":{"test":"abs(log(datum.value)/LN10-round(log(datum.value)/LN10))<0.01","value":-9},"value":-5},"title":null}},
       "color":{"field":"m","type":"nominal"},
       "strokeDash":{"datum":"rough","scale":{"range":[[2,3]]},"legend":{"orient":"none","legendX":294,"legendY":319,"title":null,"padding":0,"symbolType":"M-3.8,0H-1M1,0H3.8","symbolSize":100,"symbolStrokeColor":"black","symbolFillColor":"transparent","symbolStrokeWidth":1,"labelExpr":"'Pᵣₐₘ = ϱv²'","labelAlign":"right","labelOffset":-41,"labelFontSize":18,"labelLimit":400}}}},
     {"mark":{"type":"point","filled":false,"size":55,"strokeWidth":1,"opacity":1},"encoding":{
       "x":{"field":"r","type":"quantitative","scale":{"type":"log","domain":[0.9,30],"reverse":true,"nice":false},"axis":null},
       "y":{"field":"vr","type":"quantitative","scale":{"type":"log","domain":[3e-9,0.1],"nice":false},"axis":null},
       "color":{"field":"m","type":"nominal"},
       "shape":{"datum":"o","legend":{"orient":"none","legendX":294,"legendY":319,"title":null,"padding":0,"symbolSize":80,"symbolStrokeColor":"black","symbolFillColor":"transparent","symbolStrokeWidth":1,"labelExpr":"''","labelFontSize":18}}}},
     {"mark":{"type":"circle","size":270,"opacity":1},"encoding":{
       "x":{"field":"r","type":"quantitative","scale":{"type":"log","domain":[0.9,30],"reverse":true,"nice":false},"axis":null},
       "y":{"field":"v","type":"quantitative","scale":{"type":"log","domain":[3e-9,0.1],"nice":false},"axis":null},
       "color":{"field":"m","type":"nominal"}}},
     {"data":{"values":[{}]},"mark":{"type":"text","align":"left","baseline":"middle","fontSize":19,"font":"DejaVu Serif","color":"black"},"encoding":{
       "x":{"datum":22.43,"type":"quantitative","scale":{"type":"log","domain":[0.9,30],"reverse":true,"nice":false},"axis":null},
       "y":{"datum":0.01751,"type":"quantitative","scale":{"type":"log","domain":[3e-9,0.1],"nice":false},"axis":null},
       "text":{"value":"Ṁ = 10⁻² M⊕ an⁻¹"}}}
    ]},
   {"width":350,"height":348,
    "transform":[{"filter":"datum.f=='P'&&datum.md==-3"}],
    "resolve":{"axis":{"x":"independent","y":"independent"}},
    "layer":[
     {"mark":{"type":"line","strokeWidth":1.2},"encoding":{
       "x":{"field":"r","type":"quantitative","scale":{"type":"log","domain":[0.9,30],"reverse":true,"nice":false},"axis":{"orient":"bottom","values":[1,2,3,4,5,6,7,8,9,10,20,30],"labels":false,"tickSize":{"condition":{"test":"datum.value==1||datum.value==10","value":-9},"value":-5},"title":null}},
       "y":{"field":"v","type":"quantitative","scale":{"type":"log","domain":[3e-9,0.1],"nice":false},"axis":{"orient":"left","values":[3e-9,4e-9,5e-9,6e-9,7e-9,8e-9,9e-9,1e-8,2e-8,3e-8,4e-8,5e-8,6e-8,7e-8,8e-8,9e-8,1e-7,2e-7,3e-7,4e-7,5e-7,6e-7,7e-7,8e-7,9e-7,1e-6,2e-6,3e-6,4e-6,5e-6,6e-6,7e-6,8e-6,9e-6,1e-5,2e-5,3e-5,4e-5,5e-5,6e-5,7e-5,8e-5,9e-5,1e-4,2e-4,3e-4,4e-4,5e-4,6e-4,7e-4,8e-4,9e-4,0.001,0.002,0.003,0.004,0.005,0.006,0.007,0.008,0.009,0.01,0.02,0.03,0.04,0.05,0.06,0.07,0.08,0.09,0.1],"labels":false,"tickSize":{"condition":{"test":"abs(log(datum.value)/LN10-round(log(datum.value)/LN10))<0.01","value":-9},"value":-5},"title":null}},
       "color":{"field":"m","type":"nominal","scale":{"domain":["10.0","5.0","1.3","0.3"],"range":["#ff0000","#008000","#4b0082","#800000"]},"legend":null}}},
     {"mark":{"type":"line","strokeWidth":1.2,"strokeDash":[2,3]},"encoding":{
       "x":{"field":"r","type":"quantitative","scale":{"type":"log","domain":[0.9,30],"reverse":true,"nice":false},"axis":{"orient":"top","values":[1,2,3,4,5,6,7,8,9,10,20,30],"labels":false,"tickSize":{"condition":{"test":"datum.value==1||datum.value==10","value":-9},"value":-5},"title":null}},
       "y":{"field":"vr","type":"quantitative","scale":{"type":"log","domain":[3e-9,0.1],"nice":false},"axis":{"orient":"right","values":[3e-9,4e-9,5e-9,6e-9,7e-9,8e-9,9e-9,1e-8,2e-8,3e-8,4e-8,5e-8,6e-8,7e-8,8e-8,9e-8,1e-7,2e-7,3e-7,4e-7,5e-7,6e-7,7e-7,8e-7,9e-7,1e-6,2e-6,3e-6,4e-6,5e-6,6e-6,7e-6,8e-6,9e-6,1e-5,2e-5,3e-5,4e-5,5e-5,6e-5,7e-5,8e-5,9e-5,1e-4,2e-4,3e-4,4e-4,5e-4,6e-4,7e-4,8e-4,9e-4,0.001,0.002,0.003,0.004,0.005,0.006,0.007,0.008,0.009,0.01,0.02,0.03,0.04,0.05,0.06,0.07,0.08,0.09,0.1],"labels":false,"tickSize":{"condition":{"test":"abs(log(datum.value)/LN10-round(log(datum.value)/LN10))<0.01","value":-9},"value":-5},"title":null}},
       "color":{"field":"m","type":"nominal","legend":null}}},
     {"mark":{"type":"point","filled":false,"size":55,"strokeWidth":1,"opacity":1},"encoding":{
       "x":{"field":"r","type":"quantitative","scale":{"type":"log","domain":[0.9,30],"reverse":true,"nice":false},"axis":null},
       "y":{"field":"vr","type":"quantitative","scale":{"type":"log","domain":[3e-9,0.1],"nice":false},"axis":null},
       "color":{"field":"m","type":"nominal","legend":null}}},
     {"mark":{"type":"circle","size":270,"opacity":1},"encoding":{
       "x":{"field":"r","type":"quantitative","scale":{"type":"log","domain":[0.9,30],"reverse":true,"nice":false},"axis":null},
       "y":{"field":"v","type":"quantitative","scale":{"type":"log","domain":[3e-9,0.1],"nice":false},"axis":null},
       "color":{"field":"m","type":"nominal","legend":null}}},
     {"data":{"values":[{}]},"mark":{"type":"text","align":"left","baseline":"middle","fontSize":19,"font":"DejaVu Serif","color":"black"},"encoding":{
       "x":{"datum":22.43,"type":"quantitative","scale":{"type":"log","domain":[0.9,30],"reverse":true,"nice":false},"axis":null},
       "y":{"datum":0.01751,"type":"quantitative","scale":{"type":"log","domain":[3e-9,0.1],"nice":false},"axis":null},
       "text":{"value":"Ṁ = 10⁻³ M⊕ an⁻¹"}}}
    ]},
   {"width":350,"height":348,
    "transform":[{"filter":"datum.f=='P'&&datum.md==-4"}],
    "resolve":{"axis":{"x":"independent","y":"independent"}},
    "layer":[
     {"mark":{"type":"line","strokeWidth":1.2},"encoding":{
       "x":{"field":"r","type":"quantitative","scale":{"type":"log","domain":[0.9,30],"reverse":true,"nice":false},"axis":{"orient":"bottom","values":[1,2,3,4,5,6,7,8,9,10,20,30],"labelExpr":"datum.value==1||datum.value==10?''+datum.value:''","tickSize":{"condition":{"test":"datum.value==1||datum.value==10","value":-9},"value":-5},"labelPadding":32.5,"labelBaseline":"middle","title":"Planet radius (Rⱼ)","titleY":69,"titleBaseline":"middle"}},
       "y":{"field":"v","type":"quantitative","scale":{"type":"log","domain":[3e-9,0.1],"nice":false},"axis":{"orient":"left","values":[3e-9,4e-9,5e-9,6e-9,7e-9,8e-9,9e-9,1e-8,2e-8,3e-8,4e-8,5e-8,6e-8,7e-8,8e-8,9e-8,1e-7,2e-7,3e-7,4e-7,5e-7,6e-7,7e-7,8e-7,9e-7,1e-6,2e-6,3e-6,4e-6,5e-6,6e-6,7e-6,8e-6,9e-6,1e-5,2e-5,3e-5,4e-5,5e-5,6e-5,7e-5,8e-5,9e-5,1e-4,2e-4,3e-4,4e-4,5e-4,6e-4,7e-4,8e-4,9e-4,0.001,0.002,0.003,0.004,0.005,0.006,0.007,0.008,0.009,0.01,0.02,0.03,0.04,0.05,0.06,0.07,0.08,0.09,0.1],"labelExpr":"abs(log(datum.value)/LN10-round(log(datum.value)/LN10))<0.01?'10'+(datum.value<1?'⁻':'')+substring('⁰¹²³⁴⁵⁶⁷⁸⁹',abs(round(log(datum.value)/LN10)),abs(round(log(datum.value)/LN10))+1):''","tickSize":{"condition":{"test":"abs(log(datum.value)/LN10-round(log(datum.value)/LN10))<0.01","value":-9},"value":-5},"labelPadding":27.5,"title":"Post-shock pressure (bar)","titleX":-94,"titleBaseline":"middle"}},
       "color":{"field":"m","type":"nominal","scale":{"domain":["10.0","5.0","1.3","0.3"],"range":["#ff0000","#008000","#4b0082","#800000"]},"legend":null}}},
     {"mark":{"type":"line","strokeWidth":1.2,"strokeDash":[2,3]},"encoding":{
       "x":{"field":"r","type":"quantitative","scale":{"type":"log","domain":[0.9,30],"reverse":true,"nice":false},"axis":{"orient":"top","values":[1,2,3,4,5,6,7,8,9,10,20,30],"labels":false,"tickSize":{"condition":{"test":"datum.value==1||datum.value==10","value":-9},"value":-5},"title":null}},
       "y":{"field":"vr","type":"quantitative","scale":{"type":"log","domain":[3e-9,0.1],"nice":false},"axis":{"orient":"right","values":[3e-9,4e-9,5e-9,6e-9,7e-9,8e-9,9e-9,1e-8,2e-8,3e-8,4e-8,5e-8,6e-8,7e-8,8e-8,9e-8,1e-7,2e-7,3e-7,4e-7,5e-7,6e-7,7e-7,8e-7,9e-7,1e-6,2e-6,3e-6,4e-6,5e-6,6e-6,7e-6,8e-6,9e-6,1e-5,2e-5,3e-5,4e-5,5e-5,6e-5,7e-5,8e-5,9e-5,1e-4,2e-4,3e-4,4e-4,5e-4,6e-4,7e-4,8e-4,9e-4,0.001,0.002,0.003,0.004,0.005,0.006,0.007,0.008,0.009,0.01,0.02,0.03,0.04,0.05,0.06,0.07,0.08,0.09,0.1],"labels":false,"tickSize":{"condition":{"test":"abs(log(datum.value)/LN10-round(log(datum.value)/LN10))<0.01","value":-9},"value":-5},"title":null}},
       "color":{"field":"m","type":"nominal","legend":null}}},
     {"mark":{"type":"point","filled":false,"size":55,"strokeWidth":1,"opacity":1},"encoding":{
       "x":{"field":"r","type":"quantitative","scale":{"type":"log","domain":[0.9,30],"reverse":true,"nice":false},"axis":null},
       "y":{"field":"vr","type":"quantitative","scale":{"type":"log","domain":[3e-9,0.1],"nice":false},"axis":null},
       "color":{"field":"m","type":"nominal","legend":null}}},
     {"mark":{"type":"circle","size":270,"opacity":1},"encoding":{
       "x":{"field":"r","type":"quantitative","scale":{"type":"log","domain":[0.9,30],"reverse":true,"nice":false},"axis":null},
       "y":{"field":"v","type":"quantitative","scale":{"type":"log","domain":[3e-9,0.1],"nice":false},"axis":null},
       "color":{"field":"m","type":"nominal","legend":null}}},
     {"data":{"values":[{}]},"mark":{"type":"text","align":"left","baseline":"middle","fontSize":19,"font":"DejaVu Serif","color":"black"},"encoding":{
       "x":{"datum":22.43,"type":"quantitative","scale":{"type":"log","domain":[0.9,30],"reverse":true,"nice":false},"axis":null},
       "y":{"datum":0.01751,"type":"quantitative","scale":{"type":"log","domain":[3e-9,0.1],"nice":false},"axis":null},
       "text":{"value":"Ṁ = 10⁻⁴ M⊕ an⁻¹"}}}
    ]},
   {"width":350,"height":348,
    "transform":[{"filter":"datum.f=='P'&&datum.md==-5"}],
    "resolve":{"axis":{"x":"independent","y":"independent"}},
    "layer":[
     {"mark":{"type":"line","strokeWidth":1.2},"encoding":{
       "x":{"field":"r","type":"quantitative","scale":{"type":"log","domain":[0.9,30],"reverse":true,"nice":false},"axis":{"orient":"bottom","values":[1,2,3,4,5,6,7,8,9,10,20,30],"labelExpr":"datum.value==1||datum.value==10?''+datum.value:''","tickSize":{"condition":{"test":"datum.value==1||datum.value==10","value":-9},"value":-5},"labelPadding":32.5,"labelBaseline":"middle","title":"Planet radius (Rⱼ)","titleY":69,"titleBaseline":"middle"}},
       "y":{"field":"v","type":"quantitative","scale":{"type":"log","domain":[3e-9,0.1],"nice":false},"axis":{"orient":"left","values":[3e-9,4e-9,5e-9,6e-9,7e-9,8e-9,9e-9,1e-8,2e-8,3e-8,4e-8,5e-8,6e-8,7e-8,8e-8,9e-8,1e-7,2e-7,3e-7,4e-7,5e-7,6e-7,7e-7,8e-7,9e-7,1e-6,2e-6,3e-6,4e-6,5e-6,6e-6,7e-6,8e-6,9e-6,1e-5,2e-5,3e-5,4e-5,5e-5,6e-5,7e-5,8e-5,9e-5,1e-4,2e-4,3e-4,4e-4,5e-4,6e-4,7e-4,8e-4,9e-4,0.001,0.002,0.003,0.004,0.005,0.006,0.007,0.008,0.009,0.01,0.02,0.03,0.04,0.05,0.06,0.07,0.08,0.09,0.1],"labels":false,"tickSize":{"condition":{"test":"abs(log(datum.value)/LN10-round(log(datum.value)/LN10))<0.01","value":-9},"value":-5},"title":null}},
       "color":{"field":"m","type":"nominal","scale":{"domain":["10.0","5.0","1.3","0.3"],"range":["#ff0000","#008000","#4b0082","#800000"]},"legend":null}}},
     {"mark":{"type":"line","strokeWidth":1.2,"strokeDash":[2,3]},"encoding":{
       "x":{"field":"r","type":"quantitative","scale":{"type":"log","domain":[0.9,30],"reverse":true,"nice":false},"axis":{"orient":"top","values":[1,2,3,4,5,6,7,8,9,10,20,30],"labels":false,"tickSize":{"condition":{"test":"datum.value==1||datum.value==10","value":-9},"value":-5},"title":null}},
       "y":{"field":"vr","type":"quantitative","scale":{"type":"log","domain":[3e-9,0.1],"nice":false},"axis":{"orient":"right","values":[3e-9,4e-9,5e-9,6e-9,7e-9,8e-9,9e-9,1e-8,2e-8,3e-8,4e-8,5e-8,6e-8,7e-8,8e-8,9e-8,1e-7,2e-7,3e-7,4e-7,5e-7,6e-7,7e-7,8e-7,9e-7,1e-6,2e-6,3e-6,4e-6,5e-6,6e-6,7e-6,8e-6,9e-6,1e-5,2e-5,3e-5,4e-5,5e-5,6e-5,7e-5,8e-5,9e-5,1e-4,2e-4,3e-4,4e-4,5e-4,6e-4,7e-4,8e-4,9e-4,0.001,0.002,0.003,0.004,0.005,0.006,0.007,0.008,0.009,0.01,0.02,0.03,0.04,0.05,0.06,0.07,0.08,0.09,0.1],"labels":false,"tickSize":{"condition":{"test":"abs(log(datum.value)/LN10-round(log(datum.value)/LN10))<0.01","value":-9},"value":-5},"title":null}},
       "color":{"field":"m","type":"nominal","legend":null}}},
     {"mark":{"type":"point","filled":false,"size":55,"strokeWidth":1,"opacity":1},"encoding":{
       "x":{"field":"r","type":"quantitative","scale":{"type":"log","domain":[0.9,30],"reverse":true,"nice":false},"axis":null},
       "y":{"field":"vr","type":"quantitative","scale":{"type":"log","domain":[3e-9,0.1],"nice":false},"axis":null},
       "color":{"field":"m","type":"nominal","legend":null}}},
     {"mark":{"type":"circle","size":270,"opacity":1},"encoding":{
       "x":{"field":"r","type":"quantitative","scale":{"type":"log","domain":[0.9,30],"reverse":true,"nice":false},"axis":null},
       "y":{"field":"v","type":"quantitative","scale":{"type":"log","domain":[3e-9,0.1],"nice":false},"axis":null},
       "color":{"field":"m","type":"nominal","legend":null}}},
     {"data":{"values":[{}]},"mark":{"type":"text","align":"left","baseline":"middle","fontSize":19,"font":"DejaVu Serif","color":"black"},"encoding":{
       "x":{"datum":22.43,"type":"quantitative","scale":{"type":"log","domain":[0.9,30],"reverse":true,"nice":false},"axis":null},
       "y":{"datum":0.01751,"type":"quantitative","scale":{"type":"log","domain":[3e-9,0.1],"nice":false},"axis":null},
       "text":{"value":"Ṁ = 10⁻⁵ M⊕ an⁻¹"}}}
    ]}
 ]
}
]
}
